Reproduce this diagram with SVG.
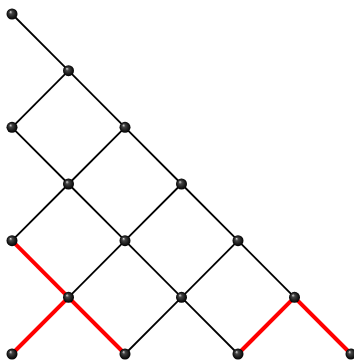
<svg xmlns="http://www.w3.org/2000/svg" width="354" height="362" viewBox="0 0 354 362">
<defs>
<radialGradient id="ball" cx="0.5" cy="0.5" r="0.5" fx="0.35" fy="0.3">
<stop offset="0" stop-color="#dddddd"/>
<stop offset="0.3" stop-color="#444"/>
<stop offset="1" stop-color="#000"/>
</radialGradient>
<style>
.e{stroke:#000;stroke-width:1.8;fill:none}
.r{stroke:#ff0000;stroke-width:4;fill:none}
.n{fill:url(#ball)}
</style>
</defs>
<rect width="354" height="362" fill="#fff"/>
<g id="connectors">
<line class="e" x1="12" y1="14" x2="68.5" y2="70.7"/>
<line class="e" x1="68.5" y1="70.7" x2="12" y2="127.3"/>
<line class="e" x1="68.5" y1="70.7" x2="125" y2="127.3"/>
<line class="e" x1="12" y1="127.3" x2="68.5" y2="184"/>
<line class="e" x1="125" y1="127.3" x2="68.5" y2="184"/>
<line class="e" x1="125" y1="127.3" x2="181.5" y2="184"/>
<line class="e" x1="68.5" y1="184" x2="12" y2="240.7"/>
<line class="e" x1="68.5" y1="184" x2="125" y2="240.7"/>
<line class="e" x1="181.5" y1="184" x2="125" y2="240.7"/>
<line class="e" x1="181.5" y1="184" x2="238" y2="240.7"/>
<line class="r" x1="12" y1="240.7" x2="68.5" y2="297.3"/>
<line class="e" x1="125" y1="240.7" x2="68.5" y2="297.3"/>
<line class="e" x1="125" y1="240.7" x2="181.5" y2="297.3"/>
<line class="e" x1="238" y1="240.7" x2="181.5" y2="297.3"/>
<line class="e" x1="238" y1="240.7" x2="294.5" y2="297.3"/>
<line class="r" x1="68.5" y1="297.3" x2="12" y2="354"/>
<line class="r" x1="68.5" y1="297.3" x2="125" y2="354"/>
<line class="e" x1="181.5" y1="297.3" x2="125" y2="354"/>
<line class="e" x1="181.5" y1="297.3" x2="238" y2="354"/>
<line class="r" x1="294.5" y1="297.3" x2="238" y2="354"/>
<line class="r" x1="294.5" y1="297.3" x2="351" y2="354"/>
</g>
<g id="n0"><circle class="n" cx="12" cy="14" r="5.5"/></g>
<g id="n1"><circle class="n" cx="68.5" cy="70.7" r="5.5"/></g>
<g id="n2"><circle class="n" cx="12" cy="127.3" r="5.5"/></g>
<g id="n3"><circle class="n" cx="125" cy="127.3" r="5.5"/></g>
<g id="n4"><circle class="n" cx="68.5" cy="184" r="5.5"/></g>
<g id="n5"><circle class="n" cx="181.5" cy="184" r="5.5"/></g>
<g id="n6"><circle class="n" cx="12" cy="240.7" r="5.5"/></g>
<g id="n7"><circle class="n" cx="125" cy="240.7" r="5.5"/></g>
<g id="n8"><circle class="n" cx="238" cy="240.7" r="5.5"/></g>
<g id="n9"><circle class="n" cx="68.5" cy="297.3" r="5.5"/></g>
<g id="n10"><circle class="n" cx="181.5" cy="297.3" r="5.5"/></g>
<g id="n11"><circle class="n" cx="294.5" cy="297.3" r="5.5"/></g>
<g id="n12"><circle class="n" cx="12" cy="354" r="5.5"/></g>
<g id="n13"><circle class="n" cx="125" cy="354" r="5.5"/></g>
<g id="n14"><circle class="n" cx="238" cy="354" r="5.5"/></g>
<g id="n15"><circle class="n" cx="351" cy="354" r="5.5"/></g>
</svg>
